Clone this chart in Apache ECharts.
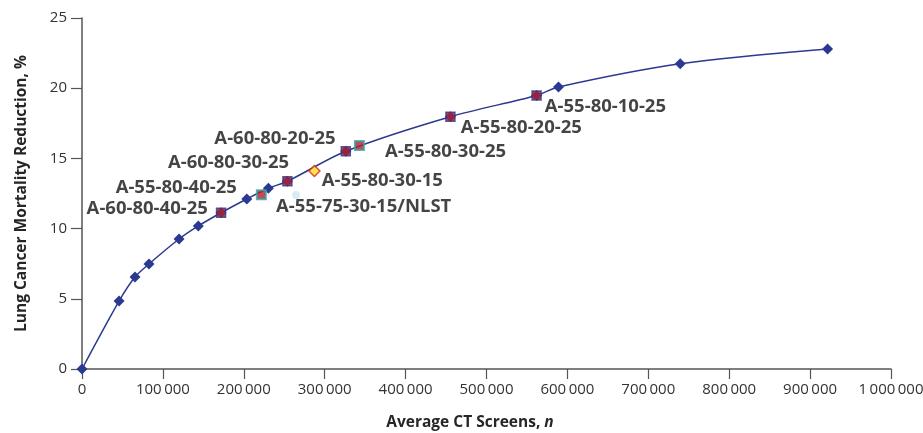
<!DOCTYPE html>
<html>
<head>
<meta charset="utf-8">
<script src="https://cdn.jsdelivr.net/npm/echarts@6/dist/echarts.min.js"></script>
<style>html,body{margin:0;padding:0;background:#fff}#c{width:923px;height:433px}</style>
</head>
<body>
<div id="c"></div>
<script>
// Efficient frontier (blue diamonds, smooth line)
const frontierX = [0, 45800, 65500, 82800, 120000, 143800, 171900, 203700, 230400, 253900, 326100, 455400, 561900, 589000, 739500, 921600];
const frontierY = [0, 4.84, 6.55, 7.48, 9.26, 10.19, 11.13, 12.11, 12.87, 13.37, 15.51, 17.97, 19.48, 20.09, 21.74, 22.79];

// Highlighted strategies on the frontier (red squares)
const redNames = ['A-60-80-40-25', 'A-60-80-30-25', 'A-60-80-20-25', 'A-55-80-20-25', 'A-55-80-10-25'];
const redX = [171900, 253900, 326100, 455400, 561900];
const redY = [11.13, 13.37, 15.51, 17.97, 19.48];

// Teal-bordered squares
const tealNames = ['A-55-80-40-25', 'A-55-80-30-25'];
const tealX = [221700, 342900];
const tealY = [12.41, 15.92];

// Yellow diamond
const yellowNames = ['A-55-80-30-15'];
const yellowX = [287300];
const yellowY = [14.1];

// NLST point
const nlstNames = ['A-55-75-30-15/NLST'];
const nlstX = [264600];
const nlstY = [12.39];

// Axis ticks
const xTicks = [0, 100000, 200000, 300000, 400000, 500000, 600000, 700000, 800000, 900000, 1000000];
const yTicks = [0, 5, 10, 15, 20, 25];

// label placement (style, not data)
const labelPlace = {
  'A-60-80-40-25': {position: 'left', distance: 0, offset: [-8, -4]},
  'A-55-80-40-25': {position: 'left', distance: 0, offset: [-19, -7]},
  'A-60-80-30-25': {position: 'left', distance: 0, offset: [7, -19]},
  'A-60-80-20-25': {position: 'left', distance: 0, offset: [-5, -13]},
  'A-55-80-30-25': {position: 'right', distance: 0, offset: [20, 6]},
  'A-55-80-30-15': {position: 'right', distance: 0, offset: [1, 10]},
  'A-55-75-30-15/NLST': {position: 'right', distance: 0, offset: [-24, 12]},
  'A-55-80-20-25': {position: 'right', distance: 0, offset: [5, 11]},
  'A-55-80-10-25': {position: 'right', distance: 0, offset: [3, 11]}
};

const BLUE = '#2b3990';
const RED = '#b11f2d';
const TEAL = '#3aa3a3';

function fmt(v) {
  if (v === 0) return '0';
  const s = String(v);
  return s.replace(/\B(?=(\d{3})+(?!\d))/g, '\u2009');
}

function items(names, xs, ys) {
  return xs.map((x, i) => ({value: [x, ys[i]], name: names[i], label: labelPlace[names[i]]}));
}

const labelStyle = {
  show: true,
  formatter: p => p.name,
  fontFamily: 'Open Sans',
  fontWeight: 'bold',
  fontSize: 18.5,
  color: '#151515'
};

const chart = echarts.init(document.getElementById('c'), null, {renderer: 'canvas'});
chart.setOption({
  animation: false,
  backgroundColor: '#ffffff',
  grid: {left: 82, right: 32, top: 18, bottom: 64, containLabel: false, outerBoundsMode: 'none'},
  xAxis: {
    type: 'value',
    min: xTicks[0], max: xTicks[xTicks.length - 1], interval: xTicks[1] - xTicks[0],
    splitLine: {show: false},
    axisLine: {lineStyle: {color: '#555', width: 1.5}},
    axisTick: {length: 10, lineStyle: {color: '#555', width: 1.2}},
    axisLabel: {formatter: fmt, fontFamily: 'Open Sans', fontSize: 15, color: '#333', margin: 13},
    name: 'Average CT Screens, {i|n}',
    nameLocation: 'middle',
    nameGap: 46,
    nameTextStyle: {
      fontFamily: 'Open Sans', fontWeight: 'bold', fontSize: 15.5, color: '#262626',
      padding: [0, 33, 0, 0],
      rich: {i: {fontFamily: 'Open Sans', fontWeight: 'bold', fontStyle: 'italic', fontSize: 15.5, color: '#262626'}}
    }
  },
  yAxis: {
    type: 'value',
    min: yTicks[0], max: yTicks[yTicks.length - 1], interval: yTicks[1] - yTicks[0],
    splitLine: {show: false},
    axisLine: {show: true, lineStyle: {color: '#555', width: 1.5}},
    axisTick: {show: true, length: 11, lineStyle: {color: '#555', width: 1.2}},
    axisLabel: {fontFamily: 'Open Sans', fontSize: 15, color: '#333', margin: 15},
    name: 'Lung Cancer Mortality Reduction, %',
    nameLocation: 'middle',
    nameGap: 52,
    nameTextStyle: {fontFamily: 'Open Sans', fontWeight: 'bold', fontSize: 15.5, color: '#262626'}
  },
  series: [
    {
      type: 'line',
      smooth: 0.3,
      data: frontierX.map((x, i) => [x, frontierY[i]]),
      symbol: 'diamond',
      symbolSize: 11,
      lineStyle: {color: BLUE, width: 1.5},
      itemStyle: {color: BLUE},
      z: 2
    },
    {
      type: 'scatter',
      data: items(nlstNames, nlstX, nlstY),
      symbol: 'circle',
      symbolSize: 8,
      itemStyle: {color: '#cfe7eb'},
      label: labelStyle,
      z: 3
    },
    {
      type: 'scatter',
      data: items(redNames, redX, redY),
      symbol: 'rect',
      symbolSize: 9,
      itemStyle: {color: RED, borderColor: BLUE, borderWidth: 1.5},
      label: labelStyle,
      z: 4
    },
    {
      type: 'scatter',
      data: items(tealNames, tealX, tealY),
      symbol: 'rect',
      symbolSize: 9,
      itemStyle: {color: RED, borderColor: TEAL, borderWidth: 2},
      label: labelStyle,
      z: 4
    },
    {
      type: 'scatter',
      data: items(yellowNames, yellowX, yellowY),
      symbol: 'diamond',
      symbolSize: 11,
      itemStyle: {color: '#f3e41c', borderColor: '#e0201e', borderWidth: 1.5},
      label: labelStyle,
      z: 4
    }
  ]
});
</script>
</body>
</html>
